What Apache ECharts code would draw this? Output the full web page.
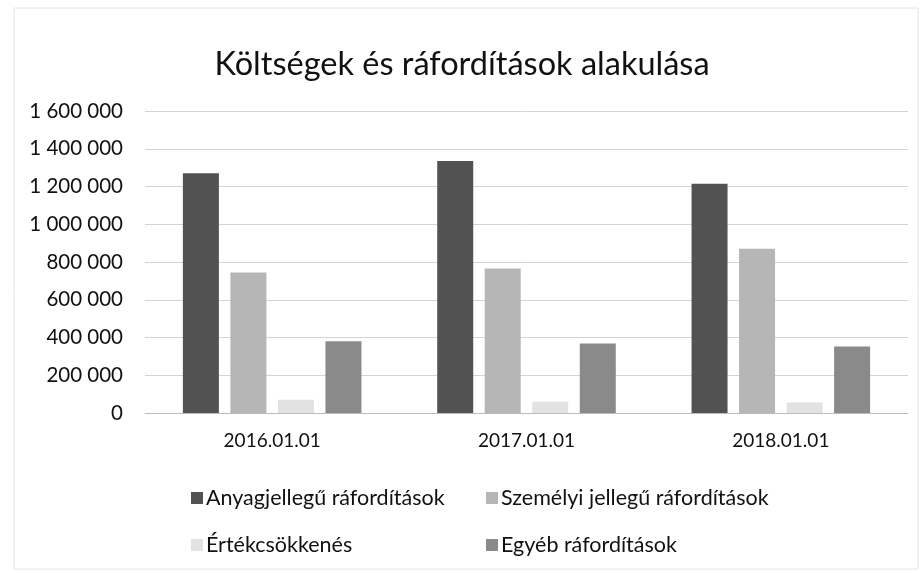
<!DOCTYPE html>
<html>
<head>
<meta charset="utf-8">
<script src="https://cdn.jsdelivr.net/npm/echarts@6/dist/echarts.min.js"></script>
<style>html,body{margin:0;padding:0;background:#fff}#c{width:924px;height:573px}</style>
</head>
<body>
<div id="c"></div>
<script>
const title = 'Költségek és ráfordítások alakulása';
const categories = ['2016.01.01', '2017.01.01', '2018.01.01'];
const seriesNames = ['Anyagjellegű ráfordítások', 'Személyi jellegű ráfordítások', 'Értékcsökkenés', 'Egyéb ráfordítások'];
const anyag = [1270000, 1335000, 1215000];
const szemelyi = [745000, 765000, 870000];
const ertekcs = [70000, 60000, 55000];
const egyeb = [380000, 368000, 352000];
const colors = ['#525252', '#b6b6b6', '#e2e2e2', '#8a8a8a'];
const values = [anyag, szemelyi, ertekcs, egyeb];

const font = 'Lato, "Open Sans", sans-serif';
const chart = echarts.init(document.getElementById('c'));
const legendPos = [[186, 482], [481, 482], [186, 529], [481, 529]];
chart.setOption({
  backgroundColor: '#fff',
  animation: false,
  title: { text: title, left: 'center', top: 43, textStyle: { fontFamily: font, fontSize: 32.5, fontWeight: 'normal', color: '#111' } },
  grid: { left: 145, right: 16, top: 111, bottom: 160 },
  legend: seriesNames.map((n, i) => ({
    data: [n], left: legendPos[i][0], top: legendPos[i][1], icon: 'rect', itemWidth: 12, itemHeight: 12, itemGap: 4,
    textStyle: { fontFamily: font, fontSize: 21.5, color: '#111', padding: [0, 0, 0, -2] }
  })),
  xAxis: {
    type: 'category', data: categories,
    axisLine: { lineStyle: { color: '#bbb' } }, axisTick: { show: false },
    axisLabel: { fontFamily: font, fontSize: 19, color: '#111', margin: 18 }
  },
  yAxis: {
    type: 'value', min: 0, max: 1600000, interval: 200000,
    axisLine: { show: false }, axisTick: { show: false },
    splitLine: { lineStyle: { color: '#d4d4d4', width: 1 } },
    axisLabel: { fontFamily: font, fontSize: 20.5, color: '#111', margin: 22,
      formatter: v => v.toString().replace(/\B(?=(\d{3})+(?!\d))/g, ' ') }
  },
  series: seriesNames.map((n, i) => ({
    name: n, type: 'bar', data: values[i], barWidth: 36, barGap: '32%',
    itemStyle: { color: colors[i] }
  })),
  graphic: [{ type: 'rect', shape: { x: 14, y: 8, width: 904, height: 561 }, style: { fill: 'none', stroke: '#e4e4e4', lineWidth: 1 }, silent: true }]
});
</script>
</body>
</html>
